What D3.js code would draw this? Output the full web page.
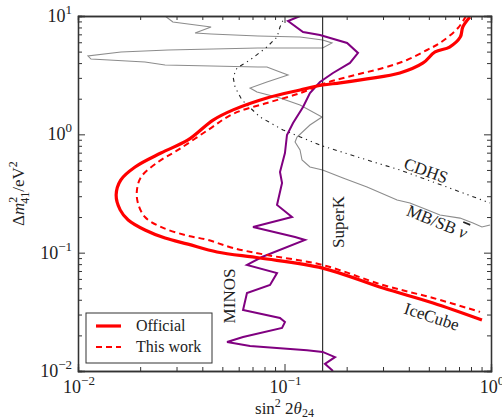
<!DOCTYPE html>
<html>
<head>
<meta charset="utf-8">
<script src="https://cdn.jsdelivr.net/npm/d3@7"></script>
<style>
  body { margin: 0; background: #fff; }
  svg text { font-family: "Liberation Serif", "DejaVu Serif", serif; fill: #222; }
</style>
</head>
<body>
<div class="chart"></div>
<script>
// sterile neutrino exclusion contours, sin^2 2theta_24 vs dm^2_41

// IceCube official contour (solid red)
var officialX = [0.79, 0.73, 0.71, 0.63, 0.536, 0.469, 0.362, 0.251, 0.186, 0.153, 0.119, 0.0822, 0.0564, 0.0451, 0.0341, 0.0252, 0.0189, 0.0161, 0.0153, 0.0160, 0.0175, 0.0211, 0.0264, 0.0341, 0.0471, 0.0761, 0.153, 0.300, 0.524, 0.904];
var officialY = [9.8, 8.07, 6.64, 5.47, 4.97, 4.01, 3.30, 2.94, 2.72, 2.61, 2.37, 2.03, 1.61, 1.32, 0.896, 0.695, 0.530, 0.411, 0.307, 0.230, 0.189, 0.1555, 0.133, 0.118, 0.1014, 0.0901, 0.0741, 0.0502, 0.0376, 0.0270];

// this work (dashed red)
var thisWorkX = [0.757, 0.692, 0.566, 0.490, 0.392, 0.300, 0.201, 0.153, 0.119, 0.0822, 0.0564, 0.0426, 0.0305, 0.0244, 0.0202, 0.0193, 0.0195, 0.0211, 0.0252, 0.033, 0.0426, 0.0564, 0.0822, 0.153, 0.300, 0.524, 0.885];
var thisWorkY = [10, 7.92, 5.92, 5.16, 4.25, 3.64, 3.05, 2.66, 2.23, 1.84, 1.49, 1.088, 0.738, 0.583, 0.436, 0.339, 0.263, 0.200, 0.165, 0.141, 0.128, 0.1094, 0.0955, 0.0787, 0.0533, 0.0414, 0.0316];

// MINOS (purple)
var minosX = [0.119, 0.104, 0.123, 0.1485, 0.201, 0.227, 0.2075, 0.1717, 0.1485, 0.1328, 0.123, 0.110, 0.1028, 0.1005, 0.0951, 0.0973, 0.0920, 0.1087, 0.0704, 0.1125, 0.1257, 0.0778, 0.0658, 0.0920, 0.0851, 0.0658, 0.0630, 0.0951, 0.1005, 0.0973, 0.0630, 0.0527, 0.0681, 0.1285, 0.153, 0.1756, 0.157, 0.1717];
var minosY = [10, 9.07, 7.33, 6.91, 5.92, 4.87, 4.01, 3.30, 2.77, 2.23, 1.70, 1.247, 0.987, 0.695, 0.481, 0.388, 0.253, 0.200, 0.165, 0.1356, 0.128, 0.0919, 0.0787, 0.0673, 0.0533, 0.0456, 0.0328, 0.0281, 0.0259, 0.0231, 0.0194, 0.0176, 0.0163, 0.0150, 0.0145, 0.0131, 0.0115, 0.01];

// CDHS (dash-dot black)
var cdhsX = [0.1005, 0.0951, 0.092, 0.0822, 0.0681, 0.0589, 0.0564, 0.0576, 0.0622, 0.0761, 0.0984, 0.153, 0.251, 0.362, 0.63, 0.989];
var cdhsY = [10, 8.07, 6.64, 5.47, 4.25, 3.64, 3.05, 2.51, 1.95, 1.40, 1.088, 0.797, 0.607, 0.500, 0.352, 0.263];

// MiniBooNE / SciBooNE antineutrino (grey)
var mbsbX = [0.0264, 0.0288, 0.0441, 0.0369, 0.0441, 0.0744, 0.1189, 0.153, 0.1698, 0.153, 0.0744, 0.0273, 0.01615, 0.01118, 0.01156, 0.0211, 0.0264, 0.0744, 0.0822, 0.0951, 0.104, 0.0822, 0.0681, 0.0736, 0.0951, 0.1189, 0.152, 0.1328, 0.1150, 0.1125, 0.1189, 0.1216, 0.1328, 0.153, 0.192, 0.251, 0.351, 0.405, 0.490, 0.566, 0.708, 0.818, 0.904, 0.989];
var mbsbY = [10, 8.90, 8.07, 7.18, 7.05, 6.78, 6.64, 6.27, 5.92, 5.37, 5.37, 5.16, 4.97, 4.59, 4.33, 4.08, 3.85, 3.71, 3.71, 3.36, 3.17, 2.77, 2.46, 2.28, 2.03, 1.77, 1.40, 1.199, 0.949, 0.861, 0.738, 0.607, 0.530, 0.500, 0.428, 0.359, 0.279, 0.263, 0.230, 0.208, 0.196, 0.178, 0.165, 0.1714];

// Super-Kamiokande limit (vertical line)
var superKX = 0.153;

var xDecades = [0.01, 0.1, 1];
var yDecades = [0.01, 0.1, 1, 10];
var xExponents = ["\u22122", "\u22121", "0"];
var yExponents = ["\u22122", "\u22121", "0", "1"];

var legendNames = ["Official", "This work"];

var W = 502, H = 419;
var margin = {top: 16, right: 11, bottom: 48, left: 78};
var width = W - margin.left - margin.right,
	height = H - margin.top - margin.bottom;

var x = d3.scaleLog().domain([0.01, 1]).range([0, width]);
var y = d3.scaleLog().domain([0.01, 10]).range([height, 0]);

function zip(xs, ys){
	return xs.map(function(d, i){ return [d, ys[i]]; });
}

var line = d3.line()
	.x(function(d){ return x(d[0]); })
	.y(function(d){ return y(d[1]); });

var smooth = d3.line()
	.x(function(d){ return x(d[0]); })
	.y(function(d){ return y(d[1]); })
	.curve(d3.curveCatmullRom);

var svg = d3.select(".chart")
	.append("svg")
	.attr("width", W)
	.attr("height", H)
  .append("g")
	.attr("transform", "translate(" + margin.left + "," + margin.top + ")");

svg.append("clipPath")
	.attr("id", "plotClip")
  .append("rect")
	.attr("width", width)
	.attr("height", height);

var plot = svg.append("g").attr("clip-path", "url(#plotClip)");

//grey MB/SB
plot.append("path")
	.attr("d", line(zip(mbsbX, mbsbY)))
	.style("fill", "none")
	.style("stroke", "#8c8c8c")
	.style("stroke-width", 1.1);

//CDHS
plot.append("path")
	.attr("d", line(zip(cdhsX, cdhsY)))
	.style("fill", "none")
	.style("stroke", "#222")
	.style("stroke-width", 1.1)
	.style("stroke-dasharray", "1.2,4,1.2,4,4,4");

//SuperK
plot.append("line")
	.attr("x1", x(superKX)).attr("x2", x(superKX))
	.attr("y1", 0).attr("y2", height)
	.style("stroke", "#222")
	.style("stroke-width", 1.1);

//MINOS
plot.append("path")
	.attr("d", line(zip(minosX, minosY)))
	.style("fill", "none")
	.style("stroke", "#800080")
	.style("stroke-width", 2);

//this work
plot.append("path")
	.attr("d", smooth(zip(thisWorkX, thisWorkY)))
	.style("fill", "none")
	.style("stroke", "#ff0000")
	.style("stroke-width", 2)
	.style("stroke-dasharray", "6,4");

//official
plot.append("path")
	.attr("d", smooth(zip(officialX, officialY)))
	.style("fill", "none")
	.style("stroke", "#ff0000")
	.style("stroke-width", 3.2);

/** axes: ticks inside on all four sides **/
function minorTicks(decades){
	var out = [];
	decades.forEach(function(d, i){
		if(i == decades.length - 1) return;
		for(var k = 2; k <= 9; k++) out.push(d * k);
	});
	return out;
}

var xMinor = minorTicks(xDecades);
var yMinor = minorTicks(yDecades);

svg.append("g").call(d3.axisBottom(x).tickValues(xDecades).tickSize(-7).tickFormat(""))
	.attr("transform", "translate(0," + height + ")");
svg.append("g").call(d3.axisBottom(x).tickValues(xMinor).tickSize(-4).tickFormat(""))
	.attr("transform", "translate(0," + height + ")");
svg.append("g").call(d3.axisTop(x).tickValues(xDecades).tickSize(-7).tickFormat(""));
svg.append("g").call(d3.axisTop(x).tickValues(xMinor).tickSize(-4).tickFormat(""));
svg.append("g").call(d3.axisLeft(y).tickValues(yDecades).tickSize(-7).tickFormat(""));
svg.append("g").call(d3.axisLeft(y).tickValues(yMinor).tickSize(-4).tickFormat(""));
svg.append("g").call(d3.axisRight(y).tickValues(yDecades).tickSize(-7).tickFormat(""))
	.attr("transform", "translate(" + width + ",0)");
svg.append("g").call(d3.axisRight(y).tickValues(yMinor).tickSize(-4).tickFormat(""))
	.attr("transform", "translate(" + width + ",0)");

svg.selectAll(".domain").style("stroke", "#333").style("stroke-width", 1.3);
svg.selectAll(".tick line").style("stroke", "#333").style("stroke-width", 1);

//tick labels 10^n
function powLabel(sel, exp){
	sel.append("tspan").text("10");
	sel.append("tspan").text(exp)
		.attr("dy", -8)
		.style("font-size", "13px");
}

xDecades.forEach(function(d, i){
	var t = svg.append("text")
		.attr("x", x(d) + 1)
		.attr("y", height + 22)
		.attr("text-anchor", "middle")
		.style("font-size", "18px");
	powLabel(t, xExponents[i]);
});

yDecades.forEach(function(d, i){
	var t = svg.append("text")
		.attr("x", -6)
		.attr("y", y(d) + 6)
		.attr("text-anchor", "end")
		.style("font-size", "18px");
	powLabel(t, yExponents[i]);
});

//axis titles
var xt = svg.append("text")
	.attr("x", width / 2)
	.attr("y", height + 43)
	.attr("text-anchor", "middle")
	.style("font-size", "17px");
xt.append("tspan").text("sin");
xt.append("tspan").text("2").attr("dy", -7).style("font-size", "12px");
xt.append("tspan").text(" 2").attr("dy", 7);
xt.append("tspan").text("\u03b8").style("font-style", "italic");
xt.append("tspan").text("24").attr("dy", 3).style("font-size", "12px");

var yt = svg.append("text")
	.attr("transform", "translate(" + (-54) + "," + (height / 2) + ") rotate(-90)")
	.attr("text-anchor", "middle")
	.style("font-size", "17px");
yt.append("tspan").text("\u0394");
yt.append("tspan").text("m").style("font-style", "italic");
yt.append("tspan").text("2").attr("dy", -7).style("font-size", "12px");
yt.append("tspan").text("41").attr("dx", -7).attr("dy", 12).style("font-size", "12px");
yt.append("tspan").text("/eV").attr("dy", -5);
yt.append("tspan").text("2").attr("dy", -7).style("font-size", "12px");

//curve labels; "bar" adds an overlined nu
var labels = [
	{text: "CDHS", px: 346, py: 160, rot: 20},
	{text: "MB/SB ", bar: "\u03bd", px: 357, py: 211, rot: 22},
	{text: "IceCube", px: 352, py: 306, rot: 18},
	{text: "SuperK", px: 266, py: 206, rot: -90},
	{text: "MINOS", px: 157, py: 280, rot: -90}
];
labels.forEach(function(d){
	var t = svg.append("text")
		.attr("text-anchor", "middle")
		.attr("transform", "translate(" + d.px + "," + d.py + ") rotate(" + d.rot + ")")
		.style("font-size", "17px")
		.style("white-space", "pre");
	t.append("tspan").text(d.text);
	if(d.bar){
		t.append("tspan").text(d.bar)
			.style("font-style", "italic")
			.style("text-decoration", "overline");
	}
});

//legend
var lgd = svg.append("g").attr("transform", "translate(8," + (height - 58) + ")");
lgd.append("rect")
	.attr("width", 126)
	.attr("height", 50)
	.style("fill", "#fff")
	.style("stroke", "#333")
	.style("stroke-width", 1);

var entry = lgd.selectAll(".entry")
	.data(legendNames)
	.enter()
	.append("g")
	.attr("class", "entry")
	.attr("transform", function(d, i){
		return "translate(0," + (13 + i * 21) + ")";
	});

entry.append("line")
	.attr("x1", 10).attr("x2", 35)
	.style("stroke", "#ff0000")
	.style("stroke-width", function(d, i){ return i == 0 ? 3.2 : 2; })
	.style("stroke-dasharray", function(d, i){ return i == 0 ? null : "6,4"; });

entry.append("text")
	.text(function(d){ return d; })
	.attr("x", 50)
	.attr("y", 5)
	.style("font-size", "16px");
</script>
</body>
</html>
